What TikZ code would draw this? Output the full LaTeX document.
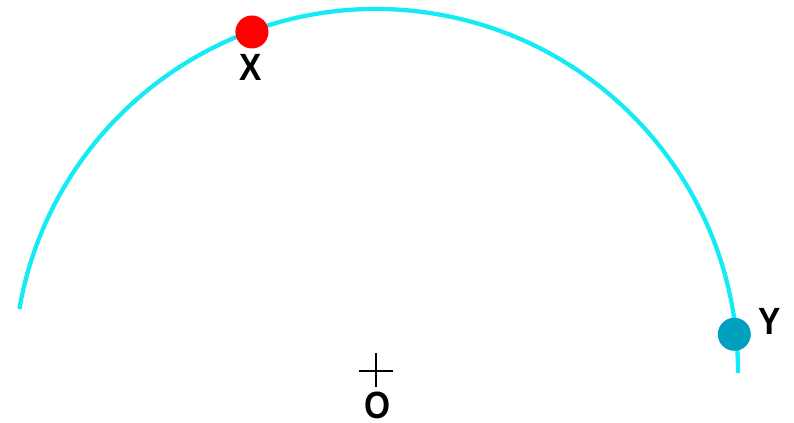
\documentclass[tikz,border=0pt]{standalone}
\usepackage{fontspec}
\setmainfont{Liberation Sans}
\begin{document}
\begin{tikzpicture}[x=0.75pt,y=0.75pt,
  arcline/.style={line width=3.2pt,color=arccyan},
  dotstyle/.style={circle,inner sep=0pt,minimum size=24.75pt},
  lbl/.style={inner sep=0pt,xscale=0.88,font=\fontsize{28.5}{32}\selectfont\bfseries,text=black},
  crossline/.style={line width=1.1pt,black}]
\definecolor{arccyan}{RGB}{20,235,245}
\definecolor{dotred}{RGB}{255,0,0}
\definecolor{dotteal}{RGB}{0,160,192}
\useasboundingbox (0,0) rectangle (794,423);
\coordinate (O) at (376,52);
% arc
\draw[arcline] (O) ++(170.15:362) coordinate (A) arc[start angle=170.15,end angle=-0.3,radius=362] coordinate (B);
% cross at O
\draw[crossline] ([xshift=-12.75pt]O) -- ([xshift=12.75pt]O);
\draw[crossline] ([yshift=13.5pt]O) -- ([yshift=-12pt]O);
\node[lbl] (Olbl) at ([xshift=1.2pt,yshift=-25.8pt]O) {O};
% X
\path (O) ++(110.1:361) node[dotstyle,fill=dotred] (X) {};
\node[lbl] (Xlbl) at ([xshift=-0.8pt,yshift=-26.5pt]X.center) {X};
% Y
\path (O) ++(5.85:360.2) node[dotstyle,fill=dotteal] (Y) {};
\node[lbl] (Ylbl) at ([xshift=26.5pt,yshift=9.5pt]Y.center) {Y};
\end{tikzpicture}
\end{document}
